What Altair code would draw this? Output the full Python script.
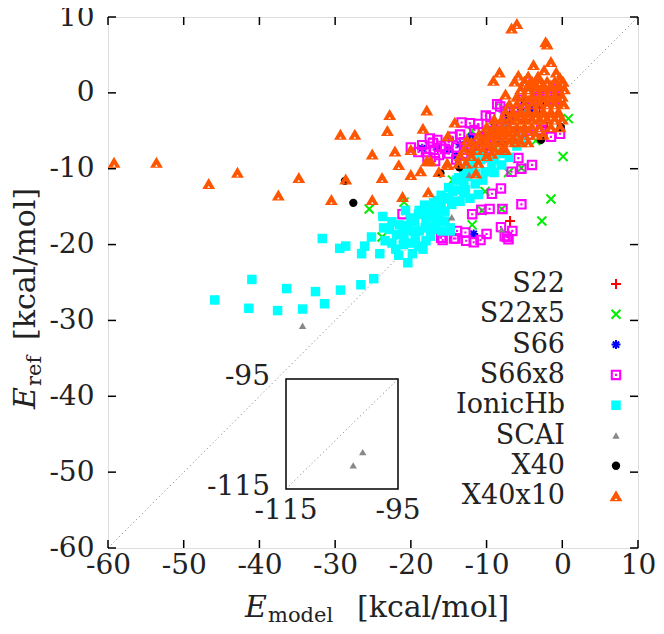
import altair as alt
import pandas as pd

# ---------------- data ----------------
X_TICKS = [-60, -50, -40, -30, -20, -10, 0, 10]
Y_TICKS = [-60, -50, -40, -30, -20, -10, 0, 10]
DIAG = [-60, 10]
INSET_TICKS = [-115, -95]

SERIES = ["S22", "S22x5", "S66", "S66x8", "IonicHb", "SCAI", "X40", "X40x10"]

S22 = [(-6.9, -16.9), (-3.0, -2.0), (-1.0, -1.0), (-5.0, -3.5), (-9.0, -6.0),
       (-10.0, -7.5), (-2.0, -4.5), (-12.0, -8.0), (-0.5, -0.3)]

S22X5 = [(-1.5, -14.0), (-2.7, -16.9), (-11.9, -17.4), (-7.1, -10.5), (-10.6, -15.5),
         (-5.4, -9.9), (0.8, -3.4), (0.1, -8.4), (-3.5, -6.3), (-25.5, -15.3),
         (-23.8, -19.0), (-20.9, -14.4), (-19.8, -16.7), (-10.2, -13.0), (-8.0, -15.3),
         (-14.5, -11.5), (-4.5, -5.0), (-9.0, -7.0), (-7.8, -2.0), (-12.0, -5.0)]

S66 = [(-11.7, -18.6), (-16.5, -7.2), (-15.0, -7.5), (-13.5, -6.8), (-12.0, -5.8),
       (-10.5, -5.5), (-9.0, -4.5), (-7.0, -3.5), (-5.5, -2.5), (-4.0, -2.0),
       (-2.5, -1.0), (-18.5, -7.3), (-14.0, -8.3), (-11.0, -8.0), (-8.0, -6.5), (-6.0, -5.0)]

S66X8 = [(-18.5, -6.9), (-17.1, -6.6), (-16.3, -8.2), (-13.3, -3.9), (-12.2, -4.0),
         (-11.1, -4.1), (-11.6, -4.9), (-10.1, -3.0), (-8.6, -1.5), (-8.2, -1.8),
         (-5.4, -0.9), (-6.7, -10.4), (-9.3, -13.3), (-8.1, -12.6), (-17.2, -15.1),
         (-10.7, -15.4), (-9.6, -15.3), (-7.9, -15.3), (-5.8, -8.6), (-4.0, -9.5),
         (-5.4, -10.0), (-5.4, -14.7), (-8.1, -17.7), (-6.6, -18.2), (-7.6, -18.9),
         (-7.1, -19.3), (-7.3, -19.0), (-10.0, -18.6), (-10.8, -19.4), (-11.7, -19.7),
         (-12.7, -19.5), (-12.8, -18.4), (-13.9, -18.2), (-14.1, -19.2), (-15.8, -19.4),
         (-11.9, -16.0), (-21.1, -16.0), (-16.0, -19.1), (-14.3, -19.2), (-20.0, -7.2),
         (-18.0, -7.8), (-17.0, -7.5), (-16.0, -7.0), (-15.0, -6.5), (-15.0, -8.0),
         (-14.0, -7.2), (-13.0, -6.5), (-13.0, -8.0), (-12.0, -7.0), (-11.0, -6.2),
         (-10.0, -5.8), (-9.0, -5.0), (-12.0, -8.8), (-14.0, -8.8), (-16.8, -9.0),
         (-17.8, -8.5), (-10.0, -7.3), (-8.0, -4.5), (-7.0, -3.5), (-6.0, -2.5),
         (-5.0, -2.0), (-4.0, -1.5), (-3.0, -0.5), (-2.0, 0.0), (-1.0, -1.0),
         (-1.0, 0.5), (-9.5, -3.2), (-7.5, -2.5), (-3.8, 1.2), (-3.2, 0.3),
         (-2.8, -4.9), (-0.3, -5.4), (-1.5, -5.8), (-4.5, -5.5),
         (-16.5, -6.2), (-14.5, -5.8), (-13.5, -5.5), (-15.5, -7.4), (-17.5, -6.0),
         (-19.0, -7.8), (-11.5, -7.5), (-10.5, -8.5), (-13.5, -9.3)]

IONICHB = [(-45.9, -27.3), (-41.0, -24.6), (-41.4, -28.4), (-37.6, -28.7), (-36.4, -25.8),
           (-34.3, -28.5), (-32.6, -26.2), (-31.4, -27.8), (-29.3, -26.0), (-26.6, -25.3),
           (-24.9, -24.5), (-31.7, -19.2), (-29.4, -20.5), (-28.6, -20.2), (-26.1, -20.2),
           (-26.5, -21.2), (-25.2, -19.0), (-24.1, -21.2), (-23.7, -16.3), (-23.6, -17.8),
           (-21.5, -17.4), (-21.9, -18.7), (-22.0, -20.6), (-21.6, -21.4), (-20.4, -22.4),
           (-19.8, -21.2), (-18.4, -20.6), (-20.7, -15.5), (-18.9, -15.5), (-17.7, -16.3),
           (-16.8, -17.1), (-15.9, -18.2), (-14.8, -18.2), (-14.3, -14.3), (-19.4, -19.1),
           (-20.3, -18.2), (-20.9, -19.5), (-18.9, -18.2), (-18.1, -17.8), (-17.4, -18.9),
           (-15.5, -16.9), (-23.4, -19.5), (-13.7, -11.2), (-12.8, -12.8), (-12.2, -13.9),
           (-13.5, -14.3), (-15.5, -15.6), (-14.6, -14.7), (-11.1, -13.4), (-11.5, -10.6),
           (-10.2, -10.4), (-9.3, -9.7), (-14.8, -17.8), (-16.1, -16.9), (-22.5, -19.8),
           (-21.0, -20.0), (-20.0, -19.8), (-19.0, -20.2), (-18.0, -19.5), (-17.0, -18.0),
           (-16.5, -16.0), (-16.0, -15.0), (-17.0, -15.5), (-18.0, -16.8), (-19.5, -17.0),
           (-20.0, -16.5), (-22.8, -18.0), (-22.5, -17.0), (-15.0, -13.8), (-14.0, -12.8),
           (-13.0, -12.0), (-12.5, -11.0), (-11.8, -9.5), (-10.8, -8.8), (-10.0, -8.5),
           (-9.0, -8.8), (-8.2, -8.0), (-12.0, -10.2), (-13.0, -13.2), (-16.5, -14.2),
           (-18.2, -14.8), (-8.0, -9.5), (-7.0, -8.5), (-6.0, -7.0), (-5.5, -6.5),
           (-9.0, -10.5), (-10.5, -11.5), (-11.5, -12.0), (-13.0, -10.5), (-12.5, -9.5),
           (-19.0, -16.0), (-18.0, -15.5), (-17.0, -14.5), (-16.0, -13.5), (-15.0, -12.5),
           (-14.0, -11.5), (-13.0, -11.0), (-12.0, -9.0), (-11.0, -8.2), (-14.5, -13.0),
           (-15.5, -14.0), (-17.5, -16.0), (-21.0, -18.5), (-20.5, -17.5), (-19.5, -18.3)]

SCAI = [(-34.3, -30.7), (-14.6, -16.4), (-12.3, -10.8), (-8.0, -18.0), (-4.8, -2.2),
        (-7.7, -4.1), (-9.0, -6.5), (-3.0, -3.5)]
SCAI_INSET = [(-101.3, -108.3), (-103.0, -110.7)]

X40 = [(-27.6, -14.5), (-28.7, -11.6), (-16.1, -10.6), (-13.6, -9.8), (-10.6, -6.4),
       (-2.8, -6.2), (-0.2, -4.5), (-7.0, -3.0), (-5.0, -1.0)]

X40X10 = [(-59.2, -9.2), (-53.6, -9.2), (-46.7, -12.0), (-42.9, -10.5), (-37.5, -13.5),
          (-34.8, -11.2), (-30.5, -14.1), (-29.3, -5.5), (-27.4, -5.5), (-28.6, -11.4),
          (-25.1, -8.1), (-25.1, -14.1), (-23.8, -11.2), (-23.1, -5.0), (-22.8, -2.9),
          (-22.1, -7.7), (-21.1, -13.7), (-17.9, -2.3), (-18.4, -4.7), (-14.2, -3.9),
          (-15.1, -5.7), (-20.0, -7.5), (-21.6, -9.5), (-20.0, -10.8), (-18.7, -10.3),
          (-17.9, -9.0), (-17.7, -13.1), (-12.6, -6.2), (-10.6, -6.2), (-15.2, -9.3),
          (-13.7, -9.3), (-12.7, -9.3), (-11.1, -9.2), (-11.4, -10.6), (-16.3, -10.4),
          (-9.3, -8.0), (-9.5, -5.2), (-8.0, -5.1), (-7.5, -0.2), (-7.9, -7.3),
          (-6.2, -6.4), (-6.7, 8.5), (-6.0, 9.1), (-2.2, 6.7), (-2.0, 6.4),
          (-3.8, 3.7), (-1.5, 4.1), (-2.4, 3.0), (-8.3, 2.7), (-9.1, 1.6),
          (-6.3, 1.5), (-5.0, 1.5), (-4.2, 1.3), (-0.8, 2.7), (0.1, 1.5),
          (-17.4, -9.0), (-15.1, -9.5),
          # dense blob
          (-5.0, 1.5), (-4.0, 1.5), (-3.0, 1.5), (-2.0, 1.5), (-1.0, 1.5), (0.0, 1.5),
          (-5.5, 0.5), (-4.5, 0.5), (-3.5, 0.5), (-2.5, 0.5), (-1.5, 0.5), (-0.5, 0.5), (0.3, 0.5),
          (-6.0, -0.5), (-5.0, -0.5), (-4.0, -0.5), (-3.0, -0.5), (-2.0, -0.5), (-1.0, -0.5), (0.0, -0.5),
          (-7.0, -1.5), (-6.0, -1.5), (-5.0, -1.5), (-4.0, -1.5), (-3.0, -1.5), (-2.0, -1.5), (-1.0, -1.5), (0.2, -1.5),
          (-7.5, -2.5), (-6.5, -2.5), (-5.5, -2.5), (-4.5, -2.5), (-3.5, -2.5), (-2.5, -2.5), (-1.5, -2.5), (-0.5, -2.5),
          (-9.0, -3.5), (-8.0, -3.5), (-7.0, -3.5), (-6.0, -3.5), (-5.0, -3.5), (-4.0, -3.5), (-3.0, -3.5), (-2.0, -3.5), (-1.0, -3.5), (0.0, -3.5),
          (-10.0, -4.5), (-9.0, -4.5), (-8.0, -4.5), (-7.0, -4.5), (-6.0, -4.5), (-5.0, -4.5), (-4.0, -4.5), (-3.0, -4.5), (-1.5, -4.5), (-0.3, -4.5),
          (-11.0, -5.5), (-10.0, -5.5), (-9.0, -5.5), (-8.0, -5.5), (-7.0, -5.5), (-6.0, -5.5), (-5.0, -5.5), (-3.5, -5.5), (-2.5, -5.5),
          (-12.0, -6.5), (-11.0, -6.5), (-10.0, -6.5), (-9.0, -6.5), (-8.0, -6.5), (-7.0, -6.5), (-5.5, -6.5), (-4.5, -6.5),
          (-13.0, -7.5), (-12.0, -7.5), (-10.5, -7.5), (-9.0, -7.5), (-7.5, -7.5),
          (-13.5, -8.3), (-12.0, -8.3), (-10.0, -8.3),
          (-4.5, 1.0), (-3.5, 1.0), (-2.5, 1.0), (-1.5, 1.0), (-0.5, 1.0),
          (-4.5, -1.0), (-3.5, -1.0), (-2.5, -1.0), (-1.5, -1.0), (-0.5, -1.0),
          (-6.5, -3.0), (-5.5, -3.0), (-4.5, -3.0), (-3.5, -3.0), (-2.5, -3.0), (-1.5, -3.0), (-0.5, -3.0),
          (-8.5, -5.0), (-7.5, -5.0), (-6.5, -5.0), (-5.5, -5.0), (-4.5, -5.0),
          (-9.5, -6.0), (-8.5, -6.0), (-7.5, -6.0), (-6.5, -6.0), (-11.5, -7.0), (-10.0, -7.0),
          (-5.8, 2.3), (-4.5, 2.2), (-3.2, 2.2), (-0.3, 2.0)]

# ---------------- styling ----------------
W, H = 530, 531
FONT = "DejaVu Serif"
TICK_FS = 28
LEG_FS = 27
TITLE_FS = 30
SUB_FS = 21

TRI_HOLE = "M0,-0.9L1,0.8L-1,0.8Z M0,0.3L-0.22,0.62L0.22,0.62Z"
SQ_OPEN_DOT = ("M-1,-1L1,-1L1,1L-1,1Z M-0.6,-0.6L-0.6,0.6L0.6,0.6L0.6,-0.6Z "
               "M-0.2,-0.2L0.2,-0.2L0.2,0.2L-0.2,0.2Z")
XMARK = "M-1,-1L1,1M-1,1L1,-1"
PLUS = "M-1,0L1,0M0,-1L0,1"
STAR = "M-1,0L1,0M0,-1L0,1M-0.7,-0.7L0.7,0.7M-0.7,0.7L0.7,-0.7"

STYLE = {
    "S22": dict(shape=PLUS, filled=False, color="#ff0000", size=100, strokeWidth=2),
    "S22x5": dict(shape=XMARK, filled=False, color="#00ee00", size=81, strokeWidth=2),
    "S66": dict(shape=STAR, filled=False, color="#0000ff", size=81, strokeWidth=2),
    "S66x8": dict(shape=SQ_OPEN_DOT, filled=True, color="#ff00ff", size=110, strokeWidth=0),
    "IonicHb": dict(shape="square", filled=True, color="#00ffff", size=90, strokeWidth=0),
    "SCAI": dict(shape="triangle-up", filled=True, color="#888888", size=55, strokeWidth=0),
    "X40": dict(shape="circle", filled=True, color="#000000", size=70, strokeWidth=0),
    "X40x10": dict(shape=TRI_HOLE, filled=True, color="#ff5500", size=165, strokeWidth=0),
}
DATA = {"S22": S22, "S22x5": S22X5, "S66": S66, "S66x8": S66X8,
        "IonicHb": IONICHB, "SCAI": SCAI, "X40": X40, "X40x10": X40X10}

LABEL_EXPR = "datum.value < 0 ? '-' + (-datum.value) : '' + datum.value"

xs = alt.Scale(domain=DIAG, nice=False, zero=False)
ys = alt.Scale(domain=DIAG, nice=False, zero=False)
x_axis = alt.Axis(values=X_TICKS, ticks=False, domain=False, grid=False, title=None,
                  labelFont=FONT, labelFontSize=TICK_FS, labelColor="#222222",
                  labelPadding=3, labelFlush=False, labelOverlap=False, labelExpr=LABEL_EXPR)
y_axis = alt.Axis(values=Y_TICKS, ticks=False, domain=False, grid=False, title=None,
                  labelFont=FONT, labelFontSize=TICK_FS, labelColor="#222222",
                  labelPadding=14, labelFlush=False, labelOverlap=False, labelExpr=LABEL_EXPR)


def XE(f):
    return alt.X(f"{f}:Q", scale=xs, axis=x_axis)


def YE(f):
    return alt.Y(f"{f}:Q", scale=ys, axis=y_axis)


def frame(pairs):
    return pd.DataFrame(pairs, columns=["x", "y"])


layers = []

# dotted diagonal
diag_df = pd.DataFrame({"x": [DIAG[0]], "y": [DIAG[0]], "x2": [DIAG[1]], "y2": [DIAG[1]]})
layers.append(alt.Chart(diag_df).mark_rule(color="#777777", strokeWidth=1, strokeDash=[1, 3]).encode(
    x=XE("x"), y=YE("y"), x2="x2", y2="y2"))

# series
for name in SERIES:
    st = STYLE[name]
    layers.append(alt.Chart(frame(DATA[name])).mark_point(opacity=1, **st).encode(x=XE("x"), y=YE("y")))

# inward ticks on all four sides
xt = pd.DataFrame({"v": X_TICKS})
yt = pd.DataFrame({"v": Y_TICKS})
TL = 8
layers.append(alt.Chart(xt).mark_rule(color="black", strokeWidth=1.5).encode(
    x=XE("v"), y=alt.value(H), y2=alt.value(H - TL)))
layers.append(alt.Chart(xt).mark_rule(color="black", strokeWidth=1.5).encode(
    x=XE("v"), y=alt.value(0), y2=alt.value(TL)))
layers.append(alt.Chart(yt).mark_rule(color="black", strokeWidth=1.5).encode(
    y=YE("v"), x=alt.value(0), x2=alt.value(TL)))
layers.append(alt.Chart(yt).mark_rule(color="black", strokeWidth=1.5).encode(
    y=YE("v"), x=alt.value(W), x2=alt.value(W - TL)))

# legend (labels right-aligned, symbols to the right)
LEG_TEXT_X = 457
LEG_SYM_X = 508
LEG_Y0 = 267
LEG_DY = 30.3
for i, name in enumerate(SERIES):
    yy = LEG_Y0 + i * LEG_DY
    layers.append(alt.Chart(pd.DataFrame({"t": [name]})).mark_text(
        align="right", baseline="middle", font=FONT, fontSize=LEG_FS, color="#222222").encode(
        text="t:N", x=alt.value(LEG_TEXT_X), y=alt.value(yy)))
    layers.append(alt.Chart(pd.DataFrame({"t": [name]})).mark_point(opacity=1, **STYLE[name]).encode(
        x=alt.value(LEG_SYM_X), y=alt.value(yy)))


# axis titles with subscripts
def txt(s, x, y, size, style="normal", angle=0):
    return alt.Chart(pd.DataFrame({"t": [s]})).mark_text(
        align="left", baseline="alphabetic", font=FONT, fontSize=size, fontStyle=style,
        angle=angle, color="#222222").encode(text="t:N", x=alt.value(x), y=alt.value(y))


XT_BASE = 600
layers.append(txt("E", 137, XT_BASE, TITLE_FS, "italic"))
layers.append(txt("model", 160, XT_BASE + 5, SUB_FS))
layers.append(txt("[kcal/mol]", 249, XT_BASE, TITLE_FS))

YT_BASE = -73
layers.append(txt("E", YT_BASE, 392, TITLE_FS, "italic", 270))
layers.append(txt("ref", YT_BASE + 6, 369, SUB_FS, "normal", 270))
layers.append(txt("[kcal/mol]", YT_BASE, 323, TITLE_FS, "normal", 270))

main = alt.layer(*layers)

# ---------------- inset ----------------
ixs = alt.Scale(domain=INSET_TICKS, range=[178, 290], nice=False, zero=False)
iys = alt.Scale(domain=INSET_TICKS, range=[472, 362], nice=False, zero=False)


def IX(f):
    return alt.X(f"{f}:Q", scale=ixs, axis=None)


def IY(f):
    return alt.Y(f"{f}:Q", scale=iys, axis=None)


lo, hi = INSET_TICKS
box_df = pd.DataFrame({"a": [lo], "b": [hi]})
inset_layers = [
    alt.Chart(box_df).mark_rule(color="#777777", strokeWidth=1, strokeDash=[1, 3]).encode(
        x=IX("a"), y=IY("a"), x2="b", y2="b"),
    alt.Chart(box_df).mark_rect(fillOpacity=0, stroke="black", strokeWidth=1.5).encode(
        x=IX("a"), x2="b", y=IY("a"), y2="b"),
    alt.Chart(frame(SCAI_INSET)).mark_point(opacity=1, **STYLE["SCAI"]).encode(x=IX("x"), y=IY("y")),
]
left_lab = pd.DataFrame({"x": [lo] * len(INSET_TICKS), "y": INSET_TICKS,
                         "t": [str(v) for v in INSET_TICKS]})
bot_lab = pd.DataFrame({"x": INSET_TICKS, "y": [lo] * len(INSET_TICKS),
                        "t": [str(v) for v in INSET_TICKS]})
inset_layers.append(alt.Chart(left_lab).mark_text(
    align="right", baseline="middle", dx=-16, dy=-2, font=FONT, fontSize=TICK_FS, color="#222222").encode(
    x=IX("x"), y=IY("y"), text="t:N"))
inset_layers.append(alt.Chart(bot_lab).mark_text(
    align="center", baseline="top", dy=8, font=FONT, fontSize=TICK_FS, color="#222222").encode(
    x=IX("x"), y=IY("y"), text="t:N"))
inset = alt.layer(*inset_layers)

chart = alt.layer(main, inset).resolve_scale(x="independent", y="independent").properties(
    width=W, height=H, autosize="none",
    padding={"left": 100, "top": 9, "right": 18, "bottom": 78},
).configure_view(stroke="black", strokeWidth=2).configure(background="white")

chart.save("out.html", embed_options={"renderer": "svg", "actions": False})
